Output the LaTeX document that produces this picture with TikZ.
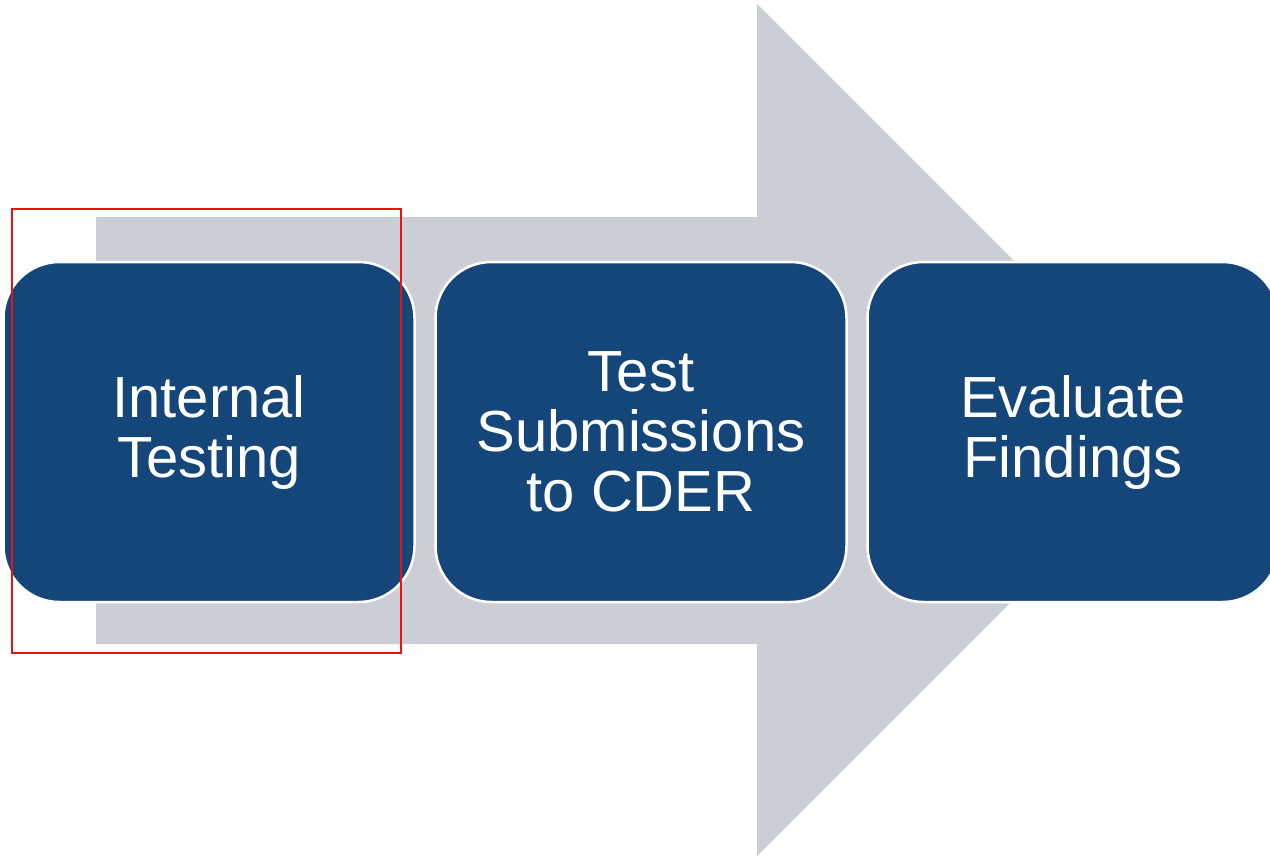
\documentclass[tikz,border=0pt]{standalone}
\usepackage{fontspec}
\setmainfont{Liberation Sans}
\definecolor{stepblue}{HTML}{15467A}
\definecolor{flowgray}{HTML}{CBCED5}
\definecolor{markred}{HTML}{F01010}
\begin{document}
\begin{tikzpicture}[x=1pt,y=-1pt,
  stepbox/.style={draw=white,line width=2.5pt,fill=stepblue,rounded corners=56pt,
    minimum width=411pt,minimum height=340pt,inner sep=0pt,
    text=white,align=center,font=\fontsize{58}{60}\selectfont},
  highlight/.style={draw=markred,line width=2.8pt}]
\useasboundingbox (0,0) rectangle (1270,857);
\clip (0,0) rectangle (1270,857);
% broad background arrow
\fill[flowgray] (96,217) -- (757,217) -- (757,4) -- (1183,430) -- (757,856) -- (757,644) -- (96,644) -- cycle;
% process steps
\node[stepbox] (b1) at (209,432) {Internal\\Testing};
\node[stepbox] (b2) at (641,432) {Test\\Submissions\\to CDER};
\node[stepbox] (b3) at (1073,432) {Evaluate\\Findings};
% highlight frame around the first step
\node[highlight,minimum width=389pt,minimum height=444pt,inner sep=0pt] (frame) at (206.5,431) {};
\end{tikzpicture}
\end{document}
